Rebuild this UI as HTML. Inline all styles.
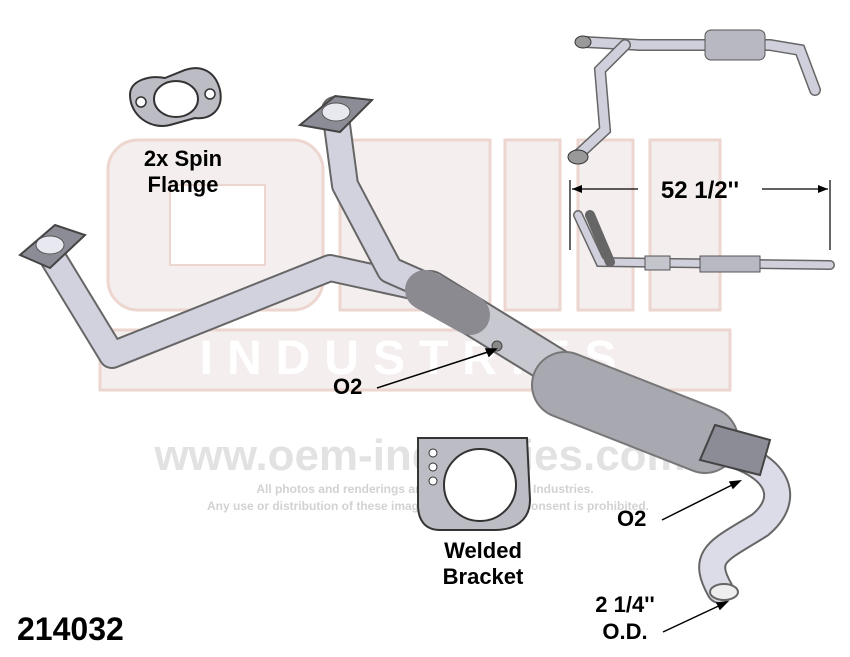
<!DOCTYPE html>
<html><head><style>
body{margin:0;background:#fff;}
svg{display:block;}
.lbl{font-family:"Liberation Sans",sans-serif;font-weight:bold;fill:#000;}
</style></head><body>
<svg width="850" height="657" viewBox="0 0 850 657" xmlns="http://www.w3.org/2000/svg">
<!-- watermark -->
<g fill="#f4efee" stroke="#ecd6cf" stroke-width="3">
<rect x="108" y="140" width="215" height="170" rx="30"/>
<rect x="340" y="140" width="150" height="170"/>
<rect x="505" y="140" width="55" height="170"/>
<rect x="578" y="140" width="55" height="170"/>
<rect x="650" y="140" width="70" height="170"/>
<rect x="100" y="330" width="630" height="60"/>
</g>
<rect x="170" y="185" width="95" height="80" fill="#fff" stroke="#ecd6cf" stroke-width="2"/>
<text x="415" y="374" text-anchor="middle" font-family="Liberation Sans,sans-serif" font-weight="bold" font-size="48" fill="#fff" letter-spacing="14">INDUSTRIES</text>
<text x="420" y="470" text-anchor="middle" font-family="Liberation Sans,sans-serif" font-weight="bold" font-size="44" fill="#e2e2e2">www.oem-industries.com</text>
<text x="425" y="493" text-anchor="middle" font-family="Liberation Sans,sans-serif" font-weight="bold" font-size="12" fill="#d2d2d2">All photos and renderings are copyright of OEM Industries.</text>
<text x="428" y="510" text-anchor="middle" font-family="Liberation Sans,sans-serif" font-weight="bold" font-size="12" fill="#d2d2d2">Any use or distribution of these images without written consent is prohibited.</text>

<!-- spin flange -->
<path d="M130 95 C130 80 150 75 165 78 L185 70 C200 65 215 70 220 90 C224 110 210 120 195 118 L170 125 C150 130 130 115 130 95Z" fill="#bcbcc4" stroke="#333" stroke-width="2"/>
<ellipse cx="176" cy="99" rx="22" ry="18" fill="#fff" stroke="#333" stroke-width="2"/>
<circle cx="141" cy="102" r="5" fill="#fff" stroke="#333" stroke-width="1.5"/>
<circle cx="210" cy="94" r="5" fill="#fff" stroke="#333" stroke-width="1.5"/>
<text class="lbl" x="183" y="166" font-size="22" text-anchor="middle">2x Spin</text>
<text class="lbl" x="183" y="192" font-size="22" text-anchor="middle">Flange</text>

<!-- welded bracket -->
<path d="M418 438 L527 438 L530 500 C530 520 515 530 495 530 L440 530 C425 530 418 520 418 505Z" fill="#bcbcc4" stroke="#333" stroke-width="2"/>
<ellipse cx="480" cy="485" rx="36" ry="36" fill="#fff" stroke="#333" stroke-width="2"/>
<circle cx="433" cy="453" r="4" fill="#fff" stroke="#333"/>
<circle cx="433" cy="467" r="4" fill="#fff" stroke="#333"/>
<circle cx="433" cy="481" r="4" fill="#fff" stroke="#333"/>
<text class="lbl" x="483" y="558" font-size="22" text-anchor="middle">Welded</text>
<text class="lbl" x="483" y="584" font-size="22" text-anchor="middle">Bracket</text>

<!-- main pipe -->
<g fill="none" stroke-linecap="round" stroke-linejoin="round">
<path d="M48 250 L112 355 L330 268 L440 292" stroke="#666" stroke-width="28"/>
<path d="M48 250 L112 355 L330 268 L440 292" stroke="#d2d2de" stroke-width="24"/>
<path d="M335 110 L345 185 L390 270 L440 292" stroke="#666" stroke-width="28"/>
<path d="M335 110 L345 185 L390 270 L440 292" stroke="#d2d2de" stroke-width="24"/>
<path d="M430 290 L560 370" stroke="#666" stroke-width="40"/>
<path d="M430 290 L560 370" stroke="#c8c8d0" stroke-width="36"/>
<path d="M425 290 L470 315" stroke="#8a8a90" stroke-width="40"/>
<path d="M565 385 L705 440" stroke="#777" stroke-width="68"/>
<path d="M565 385 L705 440" stroke="#a8a8b0" stroke-width="64"/>
<path d="M735 455 C780 470 790 500 760 525 C720 550 700 555 720 590" stroke="#666" stroke-width="28"/>
<path d="M735 455 C780 470 790 500 760 525 C720 550 700 555 720 590" stroke="#dcdce8" stroke-width="24"/>
</g>
<ellipse cx="724" cy="592" rx="14" ry="8" fill="#eee" stroke="#666" stroke-width="2"/>
<path d="M715 425 L770 440 L760 475 L700 460Z" fill="#8c8c96" stroke="#444" stroke-width="2"/>
<path d="M20 255 L55 225 L85 235 L50 268Z" fill="#8c8c96" stroke="#444" stroke-width="2"/>
<ellipse cx="50" cy="245" rx="14" ry="9" fill="#e8e8f0" stroke="#555"/>
<path d="M300 125 L335 96 L372 100 L340 132Z" fill="#8c8c96" stroke="#444" stroke-width="2"/>
<ellipse cx="336" cy="112" rx="14" ry="9" fill="#e8e8f0" stroke="#555"/>
<circle cx="497" cy="346" r="5" fill="#888" stroke="#444"/>

<!-- leaders -->
<g stroke="#000" stroke-width="1.5" fill="#000">
<line x1="377" y1="388" x2="494" y2="350"/><path d="M496 349 L486 349 L489 356Z"/>
<line x1="662" y1="520" x2="738" y2="482"/><path d="M740 481 L730 482 L733 488Z"/>
<line x1="663" y1="632" x2="725" y2="603"/><path d="M727 602 L717 603 L720 609Z"/>
</g>
<text class="lbl" x="333" y="394" font-size="22">O2</text>
<text class="lbl" x="617" y="526" font-size="22">O2</text>
<text class="lbl" x="625" y="612" font-size="22" text-anchor="middle">2 1/4''</text>
<text class="lbl" x="625" y="639" font-size="22" text-anchor="middle">O.D.</text>
<text class="lbl" x="17" y="640" font-size="32">214032</text>

<!-- top right small views -->
<g fill="none" stroke-linecap="round">
<path d="M585 42 L640 45 L700 45 L770 45 L800 50 L815 90" stroke="#666" stroke-width="12"/>
<path d="M585 42 L640 45 L700 45 L770 45 L800 50 L815 90" stroke="#d0d0dc" stroke-width="9"/>
<path d="M625 45 L600 70 L605 130 L578 155" stroke="#666" stroke-width="12"/>
<path d="M625 45 L600 70 L605 130 L578 155" stroke="#d0d0dc" stroke-width="9"/>
<path d="M578 215 L600 262 L830 265" stroke="#666" stroke-width="10"/>
<path d="M578 215 L600 262 L830 265" stroke="#d0d0dc" stroke-width="7"/>
<path d="M590 215 L610 262" stroke="#666" stroke-width="10"/>
</g>
<rect x="705" y="30" width="60" height="30" rx="6" fill="#b8b8c2" stroke="#555"/>
<rect x="700" y="256" width="60" height="16" fill="#b8b8c2" stroke="#555"/>
<rect x="645" y="256" width="25" height="14" fill="#c4c4cc" stroke="#555"/>
<ellipse cx="583" cy="42" rx="8" ry="6" fill="#999" stroke="#333"/>
<ellipse cx="578" cy="157" rx="10" ry="7" fill="#999" stroke="#333"/>
<g stroke="#000" stroke-width="1.2">
<line x1="570" y1="180" x2="570" y2="250"/>
<line x1="830" y1="180" x2="830" y2="250"/>
<line x1="572" y1="189" x2="638" y2="189"/>
<line x1="762" y1="189" x2="828" y2="189"/>
</g>
<path d="M572 189 L582 185 L582 193Z M828 189 L818 185 L818 193Z" fill="#000"/>
<text class="lbl" x="700" y="198" font-size="24" text-anchor="middle">52 1/2''</text>
</svg>
</body></html>
